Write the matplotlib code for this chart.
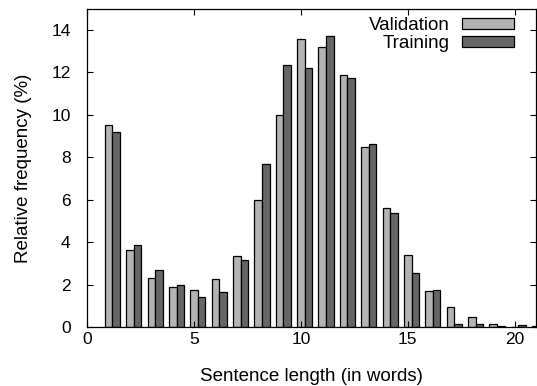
import matplotlib
matplotlib.use("Agg")
import matplotlib.pyplot as plt
import numpy as np

plt.rcParams['font.family'] = ['Liberation Sans', 'DejaVu Sans']

lengths = [1, 2, 3, 4, 5, 6, 7, 8, 9, 10, 11, 12, 13, 14, 15, 16, 17, 18, 19, 20, 21]
validation = [9.53, 3.63, 2.33, 1.89, 1.75, 2.25, 3.33, 6.0, 9.98, 13.58, 13.2, 11.89,
              8.48, 5.63, 3.38, 1.70, 0.93, 0.46, 0.14, 0.02, 0.03]
training = [9.2, 3.85, 2.67, 1.98, 1.42, 1.64, 3.16, 7.69, 12.34, 12.2, 13.74, 11.76,
            8.62, 5.36, 2.56, 1.75, 0.14, 0.14, 0.03, 0.07, 0.02]
xticks = [0, 5, 10, 15, 20]
yticks = [0, 2, 4, 6, 8, 10, 12, 14]

fig = plt.figure(figsize=(5.37, 3.86), dpi=100)
ax = fig.add_axes([0.1625, 0.153, 0.8355, 0.824])

x = np.array(lengths, dtype=float)
w = 0.355
ax.bar(x, validation, width=w, color='#b3b3b3', edgecolor='black', linewidth=0.9,
       label='Validation')
ax.bar(x + w, training, width=w, color='#666666', edgecolor='black', linewidth=0.9,
       label='Training')

ax.set_xlim(0, 21)
ax.set_ylim(0, 15)
ax.set_xticks(xticks)
ax.set_yticks(yticks)
ax.tick_params(direction='in', top=True, right=True, labelsize=12.5, length=4, width=0.8)
ax.tick_params(axis='x', pad=4)
ax.tick_params(axis='y', pad=12)
for s in ax.spines.values():
    s.set_linewidth(0.9)
ax.set_xlabel('Sentence length (in words)', fontsize=13.5, labelpad=15)
ax.set_ylabel('Relative frequency (%)', fontsize=13.5, labelpad=14)

leg = ax.legend(loc='upper right', bbox_to_anchor=(0.951, 0.975), frameon=False,
                markerfirst=False, fontsize=13.5,
                handlelength=2.77, handleheight=0.55, borderaxespad=0, borderpad=0,
                labelspacing=0.08, handletextpad=0.64)
for t in leg.get_texts():
    t.set_ha('right')

fig.savefig('out.png', dpi=100)
